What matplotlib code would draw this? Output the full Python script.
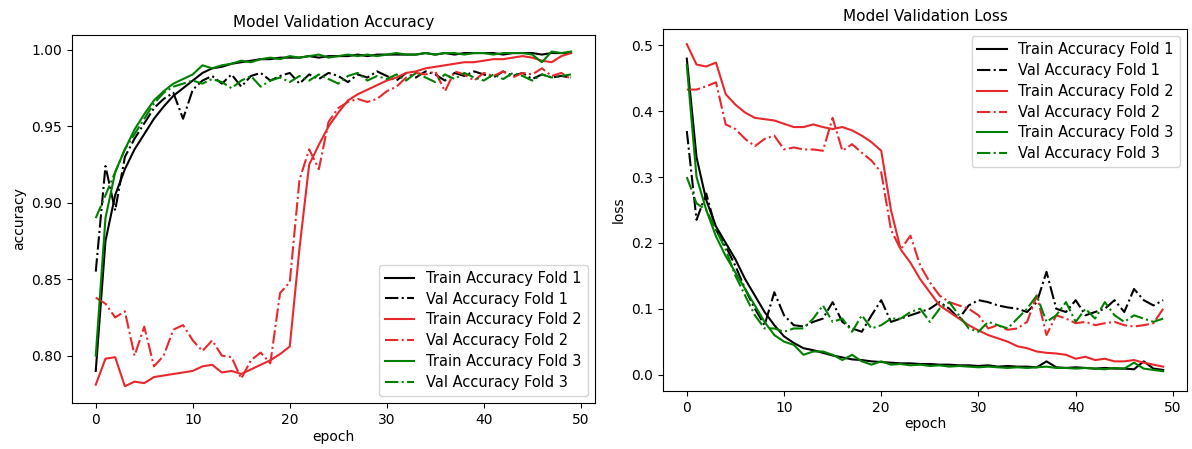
import matplotlib
matplotlib.use('Agg')
import matplotlib.pyplot as plt
import numpy as np

epochs = np.arange(50)

# accuracy per epoch
train_acc_1 = [0.790, 0.875, 0.905, 0.922, 0.935, 0.945, 0.955, 0.963, 0.970, 0.975,
               0.980, 0.985, 0.988, 0.989, 0.991, 0.992, 0.993, 0.994, 0.994, 0.995,
               0.995, 0.995, 0.996, 0.995, 0.996, 0.996, 0.996, 0.997, 0.996, 0.997,
               0.997, 0.997, 0.997, 0.997, 0.998, 0.997, 0.998, 0.997, 0.998, 0.998,
               0.998, 0.998, 0.997, 0.998, 0.998, 0.998, 0.997, 0.998, 0.998, 0.998]
val_acc_1 = [0.855, 0.924, 0.895, 0.930, 0.942, 0.952, 0.962, 0.968, 0.972, 0.955,
             0.974, 0.980, 0.983, 0.978, 0.984, 0.976, 0.983, 0.985, 0.980, 0.983,
             0.985, 0.978, 0.984, 0.981, 0.985, 0.983, 0.979, 0.984, 0.982, 0.986,
             0.983, 0.980, 0.985, 0.982, 0.986, 0.984, 0.980, 0.985, 0.983, 0.986,
             0.984, 0.982, 0.986, 0.983, 0.985, 0.981, 0.984, 0.982, 0.983, 0.982]
train_acc_2 = [0.781, 0.798, 0.799, 0.780, 0.783, 0.782, 0.786, 0.787, 0.788, 0.789,
               0.790, 0.793, 0.794, 0.789, 0.790, 0.788, 0.791, 0.794, 0.797, 0.801,
               0.806, 0.870, 0.925, 0.938, 0.950, 0.959, 0.967, 0.971, 0.974, 0.977,
               0.980, 0.982, 0.985, 0.986, 0.988, 0.989, 0.990, 0.991, 0.992, 0.992,
               0.993, 0.994, 0.994, 0.995, 0.996, 0.995, 0.993, 0.992, 0.996, 0.998]
val_acc_2 = [0.838, 0.834, 0.825, 0.829, 0.800, 0.819, 0.793, 0.800, 0.817, 0.820,
             0.810, 0.803, 0.810, 0.800, 0.799, 0.785, 0.797, 0.802, 0.795, 0.841,
             0.848, 0.915, 0.935, 0.922, 0.953, 0.962, 0.966, 0.968, 0.966, 0.968,
             0.973, 0.976, 0.982, 0.985, 0.984, 0.986, 0.973, 0.986, 0.984, 0.980,
             0.985, 0.983, 0.986, 0.982, 0.985, 0.984, 0.988, 0.983, 0.985, 0.981]
train_acc_3 = [0.800, 0.890, 0.920, 0.935, 0.948, 0.958, 0.967, 0.973, 0.978, 0.981,
               0.984, 0.990, 0.988, 0.990, 0.991, 0.993, 0.992, 0.994, 0.995, 0.994,
               0.996, 0.995, 0.996, 0.997, 0.995, 0.996, 0.997, 0.996, 0.997, 0.996,
               0.997, 0.998, 0.997, 0.997, 0.998, 0.997, 0.998, 0.998, 0.997, 0.998,
               0.998, 0.997, 0.998, 0.998, 0.998, 0.997, 0.992, 0.999, 0.998, 0.999]
val_acc_3 = [0.890, 0.905, 0.920, 0.935, 0.945, 0.955, 0.965, 0.972, 0.976, 0.978,
             0.980, 0.978, 0.981, 0.979, 0.975, 0.980, 0.983, 0.976, 0.980, 0.982,
             0.979, 0.983, 0.980, 0.984, 0.981, 0.978, 0.983, 0.985, 0.980, 0.983,
             0.981, 0.984, 0.980, 0.985, 0.982, 0.979, 0.984, 0.981, 0.985, 0.982,
             0.980, 0.984, 0.981, 0.985, 0.983, 0.980, 0.984, 0.982, 0.983, 0.984]

# loss per epoch
train_loss_1 = [0.480, 0.330, 0.265, 0.225, 0.200, 0.175, 0.145, 0.120, 0.095, 0.075,
                0.058, 0.048, 0.040, 0.037, 0.033, 0.029, 0.026, 0.023, 0.022, 0.020,
                0.019, 0.018, 0.017, 0.017, 0.016, 0.016, 0.015, 0.015, 0.014, 0.014,
                0.013, 0.014, 0.012, 0.013, 0.012, 0.012, 0.011, 0.020, 0.011, 0.010,
                0.011, 0.010, 0.009, 0.010, 0.009, 0.009, 0.008, 0.020, 0.009, 0.007]
val_loss_1 = [0.370, 0.235, 0.275, 0.220, 0.195, 0.165, 0.130, 0.100, 0.075, 0.125,
              0.090, 0.075, 0.073, 0.080, 0.085, 0.110, 0.080, 0.070, 0.065, 0.090,
              0.113, 0.080, 0.085, 0.090, 0.095, 0.100, 0.110, 0.100, 0.085, 0.105,
              0.113, 0.110, 0.105, 0.102, 0.100, 0.095, 0.110, 0.156, 0.100, 0.095,
              0.113, 0.090, 0.095, 0.100, 0.113, 0.095, 0.130, 0.113, 0.105, 0.113]
train_loss_2 = [0.502, 0.471, 0.468, 0.474, 0.426, 0.410, 0.398, 0.390, 0.388, 0.386,
                0.381, 0.376, 0.376, 0.380, 0.376, 0.373, 0.376, 0.371, 0.363, 0.353,
                0.340, 0.250, 0.190, 0.170, 0.145, 0.125, 0.105, 0.095, 0.085, 0.075,
                0.067, 0.060, 0.055, 0.050, 0.043, 0.040, 0.035, 0.033, 0.032, 0.030,
                0.024, 0.027, 0.022, 0.024, 0.020, 0.020, 0.022, 0.018, 0.015, 0.012]
val_loss_2 = [0.433, 0.433, 0.438, 0.444, 0.380, 0.373, 0.358, 0.347, 0.358, 0.363,
              0.342, 0.345, 0.342, 0.342, 0.340, 0.390, 0.340, 0.350, 0.337, 0.325,
              0.307, 0.220, 0.190, 0.211, 0.166, 0.140, 0.120, 0.110, 0.105, 0.100,
              0.090, 0.070, 0.075, 0.068, 0.070, 0.080, 0.120, 0.060, 0.090, 0.085,
              0.078, 0.080, 0.075, 0.078, 0.080, 0.075, 0.073, 0.075, 0.078, 0.100]
train_loss_3 = [0.470, 0.300, 0.250, 0.210, 0.180, 0.155, 0.130, 0.105, 0.080, 0.060,
                0.050, 0.045, 0.030, 0.035, 0.035, 0.030, 0.022, 0.030, 0.020, 0.015,
                0.020, 0.015, 0.016, 0.014, 0.015, 0.013, 0.014, 0.012, 0.013, 0.012,
                0.011, 0.012, 0.011, 0.010, 0.011, 0.010, 0.011, 0.012, 0.010, 0.010,
                0.009, 0.010, 0.009, 0.008, 0.010, 0.009, 0.018, 0.009, 0.007, 0.005]
val_loss_3 = [0.300, 0.260, 0.250, 0.220, 0.190, 0.150, 0.120, 0.090, 0.070, 0.070,
              0.065, 0.070, 0.070, 0.085, 0.105, 0.080, 0.085, 0.065, 0.090, 0.070,
              0.075, 0.085, 0.085, 0.095, 0.100, 0.080, 0.100, 0.110, 0.090, 0.070,
              0.065, 0.080, 0.075, 0.070, 0.085, 0.100, 0.120, 0.080, 0.090, 0.110,
              0.080, 0.100, 0.085, 0.110, 0.090, 0.080, 0.090, 0.085, 0.080, 0.085]

labels = ['Train Accuracy Fold 1', 'Val Accuracy Fold 1',
          'Train Accuracy Fold 2', 'Val Accuracy Fold 2',
          'Train Accuracy Fold 3', 'Val Accuracy Fold 3']
colors = ['black', 'black', '#e8282c', '#e8282c', 'green', 'green']
styles = ['-', '-.', '-', '-.', '-', '-.']

fig = plt.figure(figsize=(11.92, 4.49), dpi=100)
accGraph = fig.add_axes([0.0604, 0.1024, 0.4386, 0.8196])
lossGraph = fig.add_axes([0.5562, 0.1292, 0.4396, 0.8062])

accSeries = [train_acc_1, val_acc_1, train_acc_2, val_acc_2, train_acc_3, val_acc_3]
lossSeries = [train_loss_1, val_loss_1, train_loss_2, val_loss_2, train_loss_3, val_loss_3]

for s, lab, c, ls in zip(accSeries, labels, colors, styles):
    accGraph.plot(epochs, s, color=c, linestyle=ls, linewidth=1.5, label=lab)
for s, lab, c, ls in zip(lossSeries, labels, colors, styles):
    lossGraph.plot(epochs, s, color=c, linestyle=ls, linewidth=1.5, label=lab)

accGraph.set_title('Model Validation Accuracy', fontsize=11)
accGraph.set_xlabel('epoch', labelpad=2)
accGraph.set_ylabel('accuracy', labelpad=4)
accGraph.set_ylim(0.769, 1.0098)
accGraph.set_yticks([0.80, 0.85, 0.90, 0.95, 1.00])
accGraph.legend(loc='lower right', fontsize=10.5, labelspacing=0.4)

lossGraph.set_title('Model Validation Loss', fontsize=11)
lossGraph.set_xlabel('epoch', labelpad=2)
lossGraph.set_ylabel('loss', labelpad=4)
lossGraph.set_ylim(-0.025, 0.525)
lossGraph.set_xticks([0, 10, 20, 30, 40, 50])
lossGraph.legend(loc='upper right', fontsize=10.5, labelspacing=0.4)

fig.savefig('out.png', dpi=100)
